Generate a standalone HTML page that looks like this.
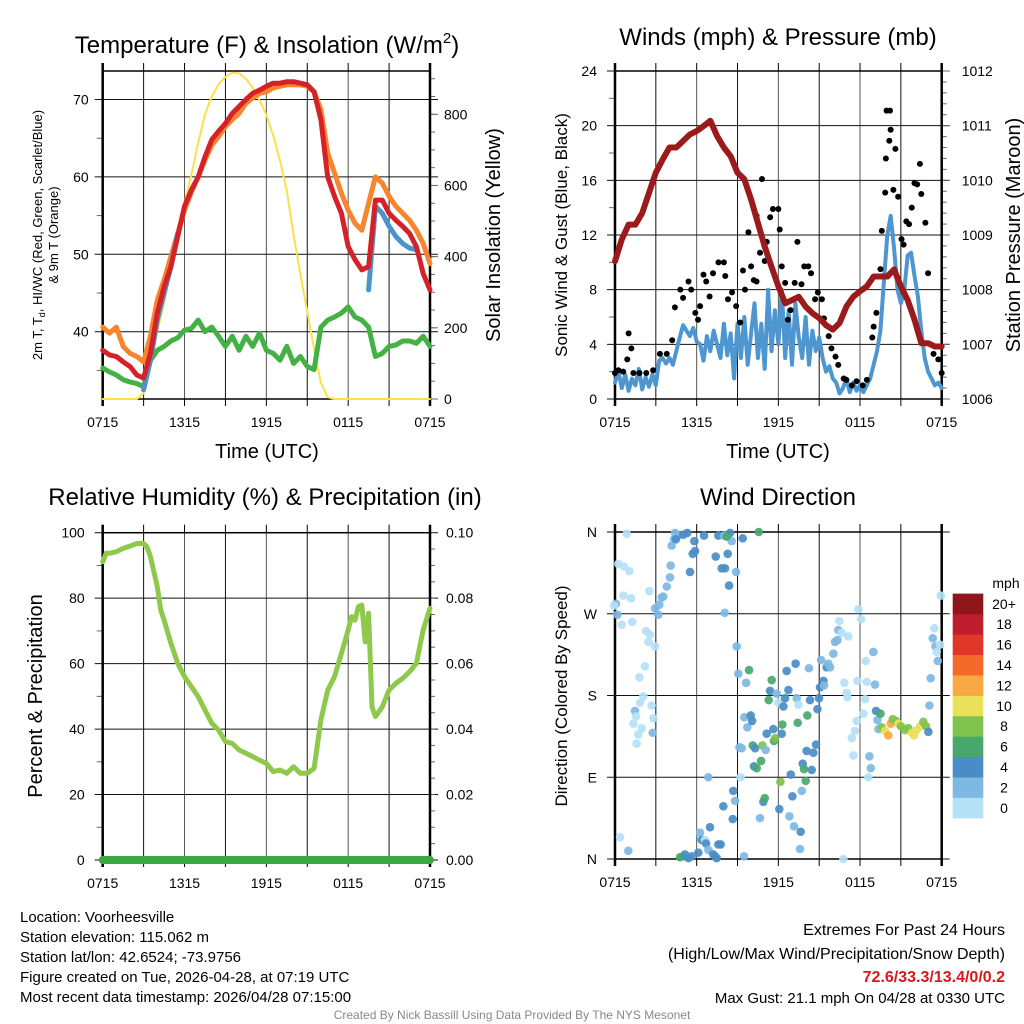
<!DOCTYPE html>
<html><head><meta charset="utf-8"><style>
html,body{margin:0;padding:0;background:#fff;}
svg{display:block;font-family:"Liberation Sans",Arial,sans-serif;}
</style></head><body>
<svg id="chart" width="1024" height="1024" viewBox="0 0 1024 1024" xmlns="http://www.w3.org/2000/svg">
<rect x="0" y="0" width="1024" height="1024" fill="#fff"/>
<text x="267" y="53" font-size="24" text-anchor="middle">Temperature (F) &amp; Insolation (W/m<tspan font-size="15" dy="-10">2</tspan><tspan dy="10">)</tspan></text>
<text x="778" y="45" font-size="24" text-anchor="middle">Winds (mph) &amp; Pressure (mb)</text>
<text x="265" y="505" font-size="24" text-anchor="middle">Relative Humidity (%) &amp; Precipitation (in)</text>
<text x="778" y="505" font-size="24" text-anchor="middle">Wind Direction</text>
<text x="267" y="458" font-size="20" text-anchor="middle">Time (UTC)</text>
<text x="778" y="458" font-size="20" text-anchor="middle">Time (UTC)</text>
<text transform="translate(42,235) rotate(-90)" font-size="13" text-anchor="middle">2m T, T<tspan font-size="9" dy="3">d</tspan><tspan dy="-3">, HI/WC (Red, Green, Scarlet/Blue)</tspan></text>
<text transform="translate(58,235) rotate(-90)" font-size="13" text-anchor="middle">&amp; 9m T (Orange)</text>
<text transform="translate(500,235) rotate(-90)" font-size="20" text-anchor="middle">Solar Insolation (Yellow)</text>
<text transform="translate(567,235) rotate(-90)" font-size="17" text-anchor="middle">Sonic Wind &amp; Gust (Blue, Black)</text>
<text transform="translate(1020,235) rotate(-90)" font-size="20" text-anchor="middle">Station Pressure (Maroon)</text>
<text transform="translate(42,696) rotate(-90)" font-size="20" text-anchor="middle">Percent &amp; Precipitation</text>
<text transform="translate(567,696) rotate(-90)" font-size="17" text-anchor="middle">Direction (Colored By Speed)</text>
<g font-size="15">
<text x="20" y="922">Location: Voorheesville</text>
<text x="20" y="942">Station elevation: 115.062 m</text>
<text x="20" y="962">Station lat/lon: 42.6524; -73.9756</text>
<text x="20" y="982">Figure created on Tue, 2026-04-28, at 07:19 UTC</text>
<text x="20" y="1002">Most recent data timestamp: 2026/04/28 07:15:00</text>
</g>
<g font-size="16" text-anchor="end">
<text x="1005" y="935">Extremes For Past 24 Hours</text>
<text x="1005" y="959">(High/Low/Max Wind/Precipitation/Snow Depth)</text>
<text x="1005" y="982" fill="#d7191c" font-weight="bold">72.6/33.3/13.4/0/0.2</text>
<text x="1005" y="1003" font-size="15">Max Gust: 21.1 mph On 04/28 at 0330 UTC</text>
</g>
<text x="512" y="1019" font-size="12" fill="#888" text-anchor="middle">Created By Nick Bassill Using Data Provided By The NYS Mesonet</text>
</svg>
<script>
const NS="http://www.w3.org/2000/svg";
const svg=document.getElementById('chart');
// ---------- DATA ----------
const timeLabels=["0715","1315","1915","0115","0715"];
const halfHours=[0,0.5,1,1.5,2,2.5,3,3.5,4,4.5,5,5.5,6,6.5,7,7.5,8,8.5,9,9.5,10,10.5,11,11.5,12,12.5,13,13.5,14,14.5,15,15.5,16,16.5,17,17.5,18,18.5,19,19.5,20,20.5,21,21.5,22,22.5,23,23.5,24];
const temp2m=[37.6,37.0,36.8,36.1,35.5,34.4,34.0,37.2,42.4,45.8,48.4,52.3,56.2,58.3,60.0,62.6,64.8,65.9,66.9,68.2,69.1,70.0,70.8,71.2,71.7,72.1,72.1,72.3,72.3,72.1,71.9,71.0,67.4,60.0,57.5,55.3,51.0,49.3,48.0,48.4,57.0,57.0,55.3,54.4,53.6,52.7,51.0,47.5,45.4];
const temp9m=[40.6,39.8,40.6,38.1,37.2,36.8,36.1,39.4,44.1,46.7,49.7,52.7,55.7,58.0,60.0,62.2,64.1,65.2,66.5,67.4,68.2,69.5,70.2,70.8,71.0,71.5,71.7,71.9,71.9,71.9,71.7,71.0,68.7,63.1,60.5,57.9,55.7,54.0,53.1,56.6,60.0,59.2,57.5,56.2,55.3,54.4,53.1,51.4,48.8];
const heatIndex=[null,null,null,null,null,null,32.5,36.3,41.5,45.0,48.4,52.7,null,null,null,null,null,null,null,null,null,null,null,null,null,null,null,null,null,null,null,null,null,null,null,null,null,null,null,45.4,56.2,55.3,53.6,52.3,51.4,50.8,50.6,null,null];
const dewpoint=[35.3,34.8,34.4,33.8,33.5,33.3,32.9,36.3,37.6,38.1,38.8,39.2,40.2,40.4,41.5,40.0,40.6,39.4,38.1,39.4,37.6,39.4,38.1,39.8,37.6,37.2,36.3,38.1,35.9,36.8,35.5,35.1,40.6,41.5,41.9,42.4,43.2,41.9,41.5,40.6,36.8,37.2,38.1,38.3,38.8,38.8,38.5,39.4,38.1];
const solar=[0,0,0,0,0,0,16,90,190,270,370,460,550,630,720,800,850,885,905,917,915,900,875,840,798,740,670,585,460,350,245,140,45,5,0,0,0,0,0,0,0,0,0,0,0,0,0,0,0];
const pressure=[1008.52,1008.92,1009.19,1009.19,1009.40,1009.77,1010.14,1010.38,1010.60,1010.60,1010.72,1010.84,1010.90,1010.99,1011.09,1010.81,1010.60,1010.44,1010.14,1010.02,1009.65,1009.22,1008.79,1008.42,1008.06,1007.75,1007.81,1007.87,1007.69,1007.57,1007.48,1007.35,1007.27,1007.39,1007.69,1007.87,1007.97,1008.06,1008.24,1008.24,1008.24,1008.37,1008.06,1007.81,1007.45,1007.02,1007.02,1006.96,1006.96];
const windSpeed=[1.2,2.0,0.8,1.8,0.6,1.5,1.0,2.2,0.7,1.6,0.9,1.8,1.0,
2.8,3.0,2.6,3.0,2.5,3.5,4.5,5.4,5.0,4.6,5.2,4.2,
4.0,2.8,4.6,3.5,5.0,4.0,3.0,5.5,3.2,4.8,1.5,5.5,
3.0,6.0,2.5,4.8,7.0,3.0,5.5,2.2,8.0,3.5,6.5,4.0,
8.0,3.0,6.5,2.5,7.0,4.5,3.0,6.0,2.5,5.0,3.5,4.5,
3.0,2.0,2.4,1.5,1.2,0.4,0.8,1.5,0.5,1.2,0.6,1.0,
0.5,1.0,1.5,2.5,3.5,5.0,8.5,12.0,13.4,11.0,8.0,7.0,
8.0,10.5,10.7,9.0,7.5,5.0,3.0,2.0,1.5,1.0,1.2,0.8];
const gustHours=[0,0.25,1.0,0.9,1.2,0.6,1.35,1.8,2.3,2.8,3.3,3.8,4.2,4.4,4.8,5.0,5.4,5.6,5.9,6.1,6.25,6.5,6.7,6.95,7.2,7.6,8.0,8.1,8.3,8.6,8.9,9.2,9.4,9.55,9.8,10.0,10.2,10.4,10.4,10.65,10.8,11.0,11.15,11.4,11.6,12.0,12.1,12.25,12.5,12.7,12.9,13.2,13.4,13.7,13.9,14.2,14.4,14.7,14.9,15.2,15.35,15.7,15.9,16.2,16.4,16.8,17.0,17.4,17.75,18.2,18.5,18.9,19.0,19.2,19.5,19.6,19.85,19.9,19.95,20.2,20.15,20.25,20.45,20.6,20.8,21.05,21.2,21.4,21.6,21.8,22.0,22.2,22.4,22.5,22.8,23.0,23.4,23.75,24];
const gustSpeed=[1.9,2.1,4.8,2.9,3.7,2.0,1.9,1.9,1.9,2.1,3.3,3.3,4.3,6.7,8.0,7.4,8.6,8.0,6.3,5.8,6.8,9.1,8.6,7.5,9.2,10.0,10.0,9.0,7.3,7.8,6.8,5.6,9.4,8.0,12.2,9.7,8.7,8.6,13.4,10.7,16.1,10.1,11.5,13.3,13.9,13.9,12.4,9.7,8.5,5.8,6.5,8.5,11.5,8.4,9.7,9.7,9.2,7.3,7.8,7.3,5.9,4.6,3.7,3.1,2.5,1.5,1.4,1.0,1.3,1.0,1.4,4.5,5.3,6.3,9.5,12.3,15.1,17.6,21.1,21.1,18.9,19.7,15.3,18.3,14.8,11.7,11.3,13.0,12.8,14.0,15.8,15.7,17.2,15.0,12.9,9.2,3.3,2.9,1.9];
const rhHours=[0,0.25,0.5,1,1.5,2,2.5,3,3.25,3.5,4,4.25,4.5,5,5.5,6,6.5,7,7.5,8,8.5,9,9.5,10,10.5,11,11.5,12,12.5,13,13.5,14,14.5,15,15.5,16,16.5,17,17.5,18,18.25,18.5,18.75,19,19.25,19.5,19.75,20,20.5,21,21.5,22,22.5,23,23.5,24];
const rhValues=[91.1,93.7,93.7,94.2,95.2,95.9,96.7,96.7,95.7,92.7,83.5,76.4,73.3,66.2,60.1,56.0,53.0,49.9,45.8,41.8,39.7,36.2,35.6,33.6,32.6,31.6,30.5,29.5,27.0,27.5,26.5,28.5,26.5,26.5,28.0,42.8,51.9,56.0,63.1,70.3,74.4,73.3,77.4,77.9,66.6,75.4,46.8,43.8,46.8,51.9,54.0,55.5,57.5,60.1,70.3,76.9];
const precipHours=[0,24];
const precipValues=[0,0];
const dirHours=[0.86,0.24,0.66,1.05,0.61,1.18,0.07,-0.07,0.17,0.49,1.27,2.28,2.57,2.45,2.94,2.52,2.20,1.79,2.08,1.84,1.47,1.54,2.69,2.82,1.35,1.96,1.71,2.77,1.59,0.37,0.98,
2.94,3.18,3.26,3.43,3.55,3.80,4.04,4.09,4.16,4.34,4.41,4.65,
4.48,5.02,5.31,5.51,5.71,5.83,5.88,6.54,7.40,7.59,7.84,8.08,8.28,8.38,8.45,9.38,8.01,8.57,8.89,8.06,8.20,10.56,
4.78,5.02,5.14,5.39,5.63,6.12,6.25,6.37,6.61,6.69,6.86,6.98,7.22,7.35,7.47,7.59,7.76,6.86,7.96,8.65,8.69,8.82,9.48,9.23,
8.94,9.06,9.14,9.31,9.50,9.63,9.72,9.97,10.07,9.85,10.12,10.29,10.21,10.41,10.73,10.83,10.90,11.00,10.65,11.07,11.14,11.29,11.39,11.51,11.63,11.68,11.76,11.88,12.00,12.07,12.15,12.25,12.29,12.37,12.49,12.61,12.74,12.81,12.91,13.03,13.15,13.27,13.35,13.47,13.42,13.59,13.64,13.72,13.79,13.89,14.01,14.08,14.13,14.25,14.33,14.45,14.57,14.77,14.87,14.99,15.06,15.14,15.31,15.36,15.55,15.67,15.80,16.04,16.16,16.34,16.41,16.48,16.65,17.14,16.78,
16.85,17.02,17.07,17.51,17.39,17.63,17.76,17.81,17.88,18.08,18.25,18.37,18.42,18.49,18.69,18.61,18.79,18.98,19.10,19.18,19.28,19.35,19.50,19.59,19.84,20.08,20.25,20.40,20.65,20.82,21.01,21.31,21.55,21.80,21.97,22.17,22.41,22.65,22.85,23.02,23.10,23.19,23.34,23.46,23.54,23.63,23.71,23.88,23.93];
const dirDeg=[358,325,322,317,290,287,281,279,269,258,261,251,247,239,234,295,212,200,179,172,163,157,169,155,149,144,137,139,127,24,9,
276,269,280,288,289,300,310,323,345,352,359,356,
352,357,359,316,336,350,339,356,333,356,320,320,336,301,359,353,356,350,316,271,355,360,
2,3,5,1,3,7,29,21,21,17,10,35,5,3,1,16,16,90,58,44,75,64,3,90,
234,204,123,122,156,194,145,158,152,208,125,122,102,100,108,125,63,67,45,120,138,175,185,197,143,130,133,182,172,55,85,138,148,168,177,207,186,47,93,69,36,215,177,170,150,11,30,75,105,99,86,119,158,210,175,98,117,126,165,177,189,219,196,191,211,215,211,226,239,241,252,262,249,245,0,
194,183,178,114,133,141,152,196,275,264,160,176,218,195,113,90,100,228,192,163,153,143,160,145,141,136,149,154,152,149,146,142,144,139,136,142,146,151,146,140,169,199,243,254,234,228,218,236,290];
const dirSpeed=[1,1,1,1,1,1,3,1,3,1,1,1,1,1,1,1,1,1,1,1,3,1,1,1,1,1,1,3,1,1,3,
3,3,3,3,3,3,3,3,3,3,3,3,
5,5,5,5,5,5,5,5,5,5,5,5,5,5,5,5,3,3,3,3,7,7,
7,7,5,5,5,5,3,5,1,5,3,5,5,5,5,5,5,3,5,5,5,3,3,1,
3,3,3,3,3,3,3,5,5,7,7,5,5,7,7,9,5,7,3,3,5,7,5,7,5,7,9,3,1,5,9,5,7,5,5,5,5,3,5,5,3,5,3,1,7,3,5,3,5,7,7,5,7,3,5,5,5,5,5,5,5,3,5,3,5,3,3,3,3,3,3,1,1,1,1,
1,1,1,1,1,1,1,1,1,1,1,1,1,1,3,1,3,3,3,5,3,3,7,9,11,13,13,9,9,11,9,9,9,11,11,11,11,9,9,5,3,3,3,1,3,1,3,1,1];
const speedLabels=["0","2","4","6","8","10","12","14","16","18","20+"];
const speedColors=["#b4e1f6","#7db9e3","#4a8dc6","#48a76c","#7fc24c","#e8e159","#f9a844","#f26b2b","#e1362a","#be1e2d","#8f151b"];
const tempTicks=[40,50,60,70];
const solarTicks=[0,200,400,600,800];
const windTicks=[0,4,8,12,16,20,24];
const presTicks=[1006,1007,1008,1009,1010,1011,1012];
const rhTicks=[0,20,40,60,80,100];
const precipTicks=["0.00","0.02","0.04","0.06","0.08","0.10"];
const dirTicks=["N","E","S","W","N"];
// ---------- HELPERS ----------
function mk(tag,attrs,parent){const e=document.createElementNS(NS,tag);for(const k in attrs)e.setAttribute(k,attrs[k]);(parent||svg).appendChild(e);return e;}
function scale(d0,d1,r0,r1){return v=>r0+(v-d0)/(d1-d0)*(r1-r0);}
function panel(name,x0,x1,y0,y1){
  const g=mk('g',{});
  
  
  const xs=scale(0,24,x0,x1);
  for(let h=3;h<24;h+=3){
    const l=mk('line',{x1:xs(h),x2:xs(h),y1:y0,y2:y1,stroke:(h%6==0)?'#555':'#111','stroke-width':1},g);
    
    
  }
  for(let h=0;h<=24;h+=3){
    const t1=mk('line',{x1:xs(h),x2:xs(h),y1:y0-8,y2:y0,stroke:'#000'},g);
    
    
    const t2=mk('line',{x1:xs(h),x2:xs(h),y1:y1,y2:y1+7,stroke:'#000'},g);
    
    
  }
  timeLabels.forEach((s,i)=>{
    const t=mk('text',{x:xs(i*6),y:y1+28,'font-size':14,'text-anchor':'middle'},g);
    t.textContent=s;
    
    
  });
  return {g,xs};
}
function hgrid(P,name,y,x0,x1){
  const l=mk('line',{x1:x0-8,x2:x1+8,y1:y,y2:y,stroke:'#111','stroke-width':1},P.g);
  
  
}
function ylabel(P,name,x,y,txt,anchor){
  const t=mk('text',{x:x,y:y+5,'font-size':14,'text-anchor':anchor},P.g);
  t.textContent=txt;
  
  
}
function minor(P,x,y,len){
  const l=mk('line',{x1:x,x2:x+len,y1:y,y2:y,stroke:'#666'},P.g);
  
  
}
function frame(P,name,x0,x1,y0,y1){
  const r=mk('rect',{x:x0,y:y0,width:x1-x0,height:y1-y0,fill:'none',stroke:'#000','stroke-width':1.5},P.g);
  
  
  const a=mk('line',{x1:x0,x2:x0,y1:y0-8,y2:y1+7,stroke:'#000','stroke-width':2.5},P.g);
  
  
  const b=mk('line',{x1:x1,x2:x1,y1:y0-8,y2:y1+7,stroke:'#000','stroke-width':2.5},P.g);
  
  
}
function path(P,name,xsArr,ys,xf,yf,color,w,op){
  let d='',pen=false;
  for(let i=0;i<ys.length;i++){
    if(ys[i]===null){pen=false;continue;}
    d+=(pen?'L':'M')+xf(xsArr[i]).toFixed(1)+','+yf(ys[i]).toFixed(1);pen=true;
  }
  const p=mk('path',{d:d,fill:'none',stroke:color,'stroke-width':w,'stroke-linejoin':'round','stroke-linecap':'round',opacity:op||1},P.g);
  
  
  return p;
}
// ---------- PANEL 1 ----------
(function(){
  const x0=102.7,x1=430,y0=71,y1=399;
  const P=panel('temp',x0,x1,y0,y1);
  const yT=scale(40,50,331.7,254.3);
  const yS=scale(0,800,399,114.3);
  tempTicks.forEach(v=>{hgrid(P,'temp',yT(v),x0,x1);ylabel(P,'temp-y-tick-label',x0-14,yT(v),String(v),'end');});
  for(let v=35;v<75;v+=10) minor(P,x0-6,yT(v),6);
  solarTicks.forEach(v=>{ylabel(P,'solar-y-tick-label',x1+14,yS(v),String(v),'start');minor(P,x1,yS(v),8);});
  for(let v=50;v<920;v+=50) minor(P,x1,yS(v),5);
  frame(P,'temp',x0,x1,y0,y1);
  const xs=P.xs;
  path(P,'solar-line',halfHours,solar,xs,yS,'#fde04a',2);
  path(P,'dewpoint-line',halfHours,dewpoint,xs,yT,'#43b143',5);
  path(P,'temp-9m-line',halfHours,temp9m,xs,yT,'#f7852d',5);
  path(P,'heat-index-line',halfHours,heatIndex,xs,yT,'#4a94cc',5);
  path(P,'temp-2m-line',halfHours,temp2m,xs,yT,'#d42228',5);
})();
// ---------- PANEL 2 ----------
(function(){
  const x0=615,x1=941.7,y0=71,y1=399;
  const P=panel('wind',x0,x1,y0,y1);
  const yW=scale(0,24,y1,y0);
  const yP=scale(1006,1012,y1,y0);
  windTicks.forEach(v=>{hgrid(P,'wind',yW(v),x0,x1);ylabel(P,'wind-y-tick-label',x0-18,yW(v),String(v),'end');});
  for(let v=2;v<24;v+=4) minor(P,x0-6,yW(v),6);
  presTicks.forEach(v=>{ylabel(P,'pressure-y-tick-label',x1+20,yP(v),String(v),'start');minor(P,x1,yP(v),8);});
  for(let v=1006;v<1012;v+=0.2) minor(P,x1,yP(v),5);
  frame(P,'wind',x0,x1,y0,y1);
  const xs=P.xs;
  const qh=windSpeed.map((_,i)=>i*0.25);
  path(P,'wind-speed-line',qh,windSpeed,xs,yW,'#4e96d0',4);
  gustHours.forEach((h,i)=>{
    const c=mk('circle',{cx:xs(h),cy:yW(gustSpeed[i]),r:3,fill:'#000'},P.g);
    
    
  });
  path(P,'pressure-line',halfHours,pressure,xs,yP,'#9b1a1c',6);
})();
// ---------- PANEL 3 ----------
(function(){
  const x0=102.7,x1=430,y0=532.7,y1=860;
  const P=panel('rh',x0,x1,y0,y1);
  const yR=scale(0,100,y1,y0);
  const yPr=scale(0,0.1,y1,y0);
  rhTicks.forEach(v=>{hgrid(P,'rh',yR(v),x0,x1);ylabel(P,'rh-y-tick-label',x0-18,yR(v),String(v),'end');});
  for(let v=10;v<100;v+=20) minor(P,x0-6,yR(v),6);
  precipTicks.forEach(s=>{ylabel(P,'precip-y-tick-label',x1+16,yPr(parseFloat(s)),s,'start');});
  for(let v=0.005;v<0.1;v+=0.005) minor(P,x1,yPr(v),5);
  frame(P,'rh',x0,x1,y0,y1);
  const xs=P.xs;
  path(P,'rh-line',rhHours,rhValues,xs,yR,'#8ec94b',5);
  path(P,'precip-line',precipHours,precipValues,xs,yPr,'#3aa843',8);
})();
// ---------- PANEL 4 ----------
(function(){
  const x0=615,x1=941.7,y0=532,y1=859;
  const P=panel('wdir',x0,x1,y0,y1);
  const yD=scale(0,360,y1,y0);
  dirTicks.forEach((s,i)=>{hgrid(P,'wdir',yD(i*90),x0,x1);ylabel(P,'wdir-y-tick-label',x0-18,yD(i*90),s,'end');});
  frame(P,'wdir',x0,x1,y0,y1);
  const xs=P.xs;
  const n=Math.min(dirHours.length,dirDeg.length,dirSpeed.length);
  for(let i=0;i<n;i++){
    const idx=Math.min(10,Math.floor(dirSpeed[i]/2));
    const c=mk('circle',{cx:xs(dirHours[i]),cy:yD(dirDeg[i]),r:4.3,fill:speedColors[idx],opacity:0.92},P.g);
    
    
  }
  const cb=mk('g',{});
  
  
  const t=mk('text',{x:1006,y:588,'font-size':14,'text-anchor':'middle'},cb);
  t.textContent='mph';
  
  
  const bh=20.4;
  speedColors.forEach((c,i)=>{
    const y=818-(i+1)*bh;
    const r=mk('rect',{x:952.7,y:y,width:30.6,height:bh+0.3,fill:c},cb);
    
    
    const l=mk('text',{x:1004,y:y+bh/2+5,'font-size':14,'text-anchor':'middle'},cb);
    l.textContent=speedLabels[i];
    
    
  });
})();
</script>
</body></html>
